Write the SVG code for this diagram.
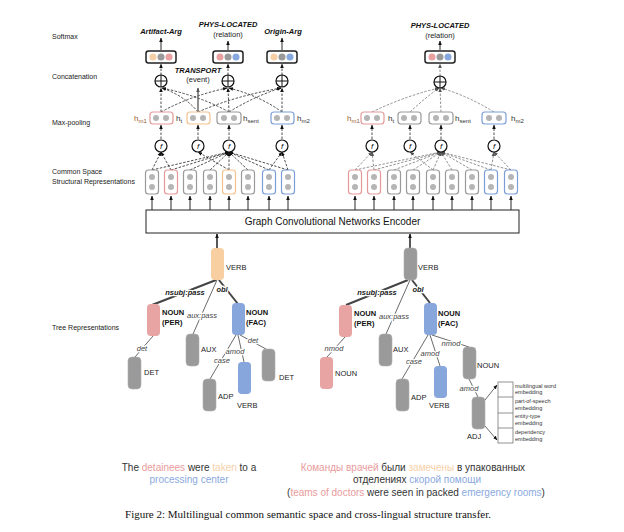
<svg xmlns="http://www.w3.org/2000/svg" width="624" height="532" viewBox="0 0 624 532">
<defs>
<marker id="a" viewBox="0 0 10 10" refX="9" refY="5" markerWidth="4.5" markerHeight="4.5" markerUnits="userSpaceOnUse" orient="auto"><path d="M0,1 L10,5 L0,9z" fill="#111"/></marker>
<marker id="ag" viewBox="0 0 10 10" refX="9" refY="5" markerWidth="4.5" markerHeight="4.5" markerUnits="userSpaceOnUse" orient="auto"><path d="M0,1 L10,5 L0,9z" fill="#555"/></marker>
</defs>
<style>
text{font-family:"Liberation Sans",Arial,sans-serif;}
text.serif{font-family:"Liberation Serif","Times New Roman",serif;}
.row{font-size:7px;fill:#222}
.t75{font-size:7.5px;fill:#222}
.bi{font-size:7.5px;font-weight:bold;font-style:italic;fill:#111}
.el{font-size:7.5px;font-style:italic;fill:#444;stroke:#fff;stroke-width:2.5px;paint-order:stroke}
.elb{font-size:7.5px;font-style:italic;font-weight:bold;fill:#222;stroke:#fff;stroke-width:2.5px;paint-order:stroke}
.nb{font-size:7.5px;font-weight:bold;fill:#111}
.emb{font-size:5.5px;fill:#333}
.dot{fill:#b5b5b5}
.sv{fill:#fff;stroke-width:1.2}
.g{stroke:#9a9a9a}.p{stroke:#e59a9a}.o{stroke:#f3c18e}.b{stroke:#7c9ed8}
.sm{fill:#fff;stroke:#222;stroke-width:1.5}
.fc{fill:#fff;stroke:#111;stroke-width:1.2}
.d{fill:none;stroke:#222;stroke-width:0.8;stroke-dasharray:2.5 1.5}
.dg{fill:none;stroke:#777;stroke-width:0.8;stroke-dasharray:2.5 1.5}
.up{fill:none;stroke:#111;stroke-width:0.9}
.thick{stroke:#444;stroke-width:2;fill:none}
.thin{stroke:#444;stroke-width:0.8;fill:none}
.ng{fill:#9a9a9a;stroke:#b0b0b0;stroke-width:0.6}
.np{fill:#e8a3a3}.no{fill:#f8cfa0}.nbl{fill:#86a6dc}
</style>
<rect width="624" height="532" fill="#fff"/>

<g id="row-labels">
<text class="row" x="52" y="39">Softmax</text>
<text class="row" x="52" y="79">Concatenation</text>
<text class="row" x="52" y="125">Max-pooling</text>
<text class="row" x="52" y="174">Common Space</text>
<text class="row" x="52" y="184">Structural Representations</text>
<text class="row" x="52" y="330">Tree Representations</text>
</g>

<g id="connectors">
<path class="up" d="M161,50 L161,38" marker-end="url(#a)"/>
<path class="up" d="M228,50 L228,41" marker-end="url(#a)"/>
<path class="up" d="M282,50 L282,38" marker-end="url(#a)"/>
<path class="up" d="M440,50 L440,41" marker-end="url(#a)"/>
<path class="d" d="M161,75 L161,64" marker-end="url(#a)"/>
<path class="d" d="M228,75 L228,64" marker-end="url(#a)"/>
<path class="d" d="M282,75 L282,64" marker-end="url(#a)"/>
<path class="dg" d="M440,76 L440,64" marker-end="url(#ag)"/>
<path class="d" d="M161,112 L161,88" marker-end="url(#a)"/>
<path class="d" d="M198,112 Q185,96 162,88" marker-end="url(#a)"/>
<path class="d" d="M229,112 Q200,96 162,88" marker-end="url(#a)"/>
<path class="d" d="M161,112 Q190,96 227,88" marker-end="url(#a)"/>
<path class="d" d="M229,112 L228,88" marker-end="url(#a)"/>
<path class="d" d="M282,112 Q260,96 229,88" marker-end="url(#a)"/>
<path class="d" d="M198,112 Q235,96 281,88" marker-end="url(#a)"/>
<path class="d" d="M229,112 Q255,96 281,88" marker-end="url(#a)"/>
<path class="d" d="M282,112 L282,88" marker-end="url(#a)"/>
<path d="M198,112 L198,88" stroke="#555" stroke-width="1.3" fill="none" marker-end="url(#ag)"/>
<path class="dg" d="M372,112 Q405,96 439,88" marker-end="url(#ag)"/>
<path class="dg" d="M410,112 Q425,98 439,88" marker-end="url(#ag)"/>
<path class="dg" d="M441,112 L440,88" marker-end="url(#ag)"/>
<path class="dg" d="M494,112 Q468,96 441,88" marker-end="url(#ag)"/>
<path class="d" d="M161,139 L161,125" marker-end="url(#a)"/>
<path class="d" d="M198,139 L198,125" marker-end="url(#a)"/>
<path class="d" d="M229,139 L229,125" marker-end="url(#a)"/>
<path class="d" d="M282,139 L282,125" marker-end="url(#a)"/>
<path class="d" d="M372,139 L372,125" marker-end="url(#a)"/>
<path class="d" d="M410,139 L410,125" marker-end="url(#a)"/>
<path class="d" d="M441,139 L441,125" marker-end="url(#a)"/>
<path class="d" d="M494,139 L494,125" marker-end="url(#a)"/>
<path class="d" d="M152,170 L161,152" marker-end="url(#a)"/>
<path class="d" d="M171,170 L161,152" marker-end="url(#a)"/>
<path class="d" d="M229,170 L198,152" marker-end="url(#a)"/>
<path class="d" d="M152,170 L229,152" marker-end="url(#a)"/>
<path class="d" d="M171,170 L229,152" marker-end="url(#a)"/>
<path class="d" d="M190,170 L229,152" marker-end="url(#a)"/>
<path class="d" d="M210,170 L229,152" marker-end="url(#a)"/>
<path class="d" d="M229,170 L229,152" marker-end="url(#a)"/>
<path class="d" d="M248,170 L229,152" marker-end="url(#a)"/>
<path class="d" d="M269,170 L229,152" marker-end="url(#a)"/>
<path class="d" d="M288,170 L229,152" marker-end="url(#a)"/>
<path class="d" d="M269,170 L282,152" marker-end="url(#a)"/>
<path class="d" d="M288,170 L282,152" marker-end="url(#a)"/>
<path class="dg" d="M355,170 L372,152" marker-end="url(#ag)"/>
<path class="dg" d="M374,170 L372,152" marker-end="url(#ag)"/>
<path class="dg" d="M433,170 L410,152" marker-end="url(#ag)"/>
<path class="dg" d="M355,170 L441,152" marker-end="url(#ag)"/>
<path class="dg" d="M374,170 L441,152" marker-end="url(#ag)"/>
<path class="dg" d="M394,170 L441,152" marker-end="url(#ag)"/>
<path class="dg" d="M413,170 L441,152" marker-end="url(#ag)"/>
<path class="dg" d="M433,170 L441,152" marker-end="url(#ag)"/>
<path class="dg" d="M452,170 L441,152" marker-end="url(#ag)"/>
<path class="dg" d="M472,170 L441,152" marker-end="url(#ag)"/>
<path class="dg" d="M491,170 L441,152" marker-end="url(#ag)"/>
<path class="dg" d="M511,170 L441,152" marker-end="url(#ag)"/>
<path class="dg" d="M491,170 L494,152" marker-end="url(#ag)"/>
<path class="dg" d="M511,170 L494,152" marker-end="url(#ag)"/>
<path class="up" d="M152,210 L152,196" marker-end="url(#a)"/>
<path class="up" d="M171,210 L171,196" marker-end="url(#a)"/>
<path class="up" d="M190,210 L190,196" marker-end="url(#a)"/>
<path class="up" d="M210,210 L210,196" marker-end="url(#a)"/>
<path class="up" d="M229,210 L229,196" marker-end="url(#a)"/>
<path class="up" d="M248,210 L248,196" marker-end="url(#a)"/>
<path class="up" d="M269,210 L269,196" marker-end="url(#a)"/>
<path class="up" d="M288,210 L288,196" marker-end="url(#a)"/>
<path class="up" d="M355,210 L355,196" marker-end="url(#a)"/>
<path class="up" d="M374,210 L374,196" marker-end="url(#a)"/>
<path class="up" d="M394,210 L394,196" marker-end="url(#a)"/>
<path class="up" d="M413,210 L413,196" marker-end="url(#a)"/>
<path class="up" d="M433,210 L433,196" marker-end="url(#a)"/>
<path class="up" d="M452,210 L452,196" marker-end="url(#a)"/>
<path class="up" d="M472,210 L472,196" marker-end="url(#a)"/>
<path class="up" d="M491,210 L491,196" marker-end="url(#a)"/>
<path class="up" d="M511,210 L511,196" marker-end="url(#a)"/>
<path d="M217,248 L217,234" stroke="#111" stroke-width="1.4" fill="none" marker-end="url(#a)"/>
<path d="M410,248 L410,234" stroke="#111" stroke-width="1.4" fill="none" marker-end="url(#a)"/>
<path class="thick" d="M216,280 L152,305"/>
<path class="thick" d="M219,280 L238,304"/>
<path class="thin" d="M217,280 L193,334"/>
<path class="thin" d="M153,336 L135,357"/>
<path class="thin" d="M236,335 L210,379"/>
<path class="thin" d="M238,335 L244,362"/>
<path class="thin" d="M240,335 L266,349"/>
<path class="thick" d="M408,280 L346,305"/>
<path class="thick" d="M412,280 L430,303"/>
<path class="thin" d="M410,280 L386,334"/>
<path class="thin" d="M345,337 L327,357"/>
<path class="thin" d="M428,335 L402,379"/>
<path class="thin" d="M430,335 L440,366"/>
<path class="thin" d="M432,335 L469,347"/>
<path class="thin" d="M469,379 L478,397"/>
<path class="thin" d="M485,400 L497,385" marker-end="url(#a)"/>
<path class="thin" d="M485,426 L497,440" marker-end="url(#a)"/>
</g>

<g id="softmax-artifact">
<text class="bi" x="161" y="34" text-anchor="middle">Artifact-Arg</text>
<rect class="sm" x="146" y="51" width="30" height="12" rx="2.5"/>
<circle cx="153" cy="57" r="3.5" fill="#f7cfa6"/><circle cx="161" cy="57" r="3.5" fill="#9a9a9a"/><circle cx="169" cy="57" r="3.5" fill="#e8a0a0"/>
</g>
<g id="softmax-phys-left">
<text class="bi" x="228" y="27" text-anchor="middle">PHYS-LOCATED</text>
<text class="t75" x="228" y="37" text-anchor="middle">(relation)</text>
<rect class="sm" x="213" y="51" width="30" height="12" rx="2.5"/>
<circle cx="220" cy="57" r="3.5" fill="#e8a0a0"/><circle cx="228" cy="57" r="3.5" fill="#9a9a9a"/><circle cx="236" cy="57" r="3.5" fill="#87a7df"/>
</g>
<g id="softmax-origin">
<text class="bi" x="283" y="34" text-anchor="middle">Origin-Arg</text>
<rect class="sm" x="267" y="51" width="30" height="12" rx="2.5"/>
<circle cx="274" cy="57" r="3.5" fill="#f7cfa6"/><circle cx="282" cy="57" r="3.5" fill="#9a9a9a"/><circle cx="290" cy="57" r="3.5" fill="#87a7df"/>
</g>
<g id="softmax-phys-right">
<text class="bi" x="440" y="28" text-anchor="middle">PHYS-LOCATED</text>
<text class="t75" x="440" y="38" text-anchor="middle">(relation)</text>
<rect class="sm" x="425" y="51" width="30" height="12" rx="2.5"/>
<circle cx="432" cy="57" r="3.5" fill="#e8a0a0"/><circle cx="440" cy="57" r="3.5" fill="#9a9a9a"/><circle cx="448" cy="57" r="3.5" fill="#87a7df"/>
</g>

<g id="plus-1"><circle class="fc" cx="161" cy="81" r="6"/><path d="M155,81 H167 M161,75 V87" stroke="#111" stroke-width="1"/></g>
<g id="plus-2"><circle class="fc" cx="228" cy="81" r="6"/><path d="M222,81 H234 M228,75 V87" stroke="#111" stroke-width="1"/></g>
<g id="plus-3"><circle class="fc" cx="282" cy="81" r="6"/><path d="M276,81 H288 M282,75 V87" stroke="#111" stroke-width="1"/></g>
<g id="plus-4"><circle class="fc" cx="440" cy="82" r="6"/><path d="M434,82 H446 M440,76 V88" stroke="#111" stroke-width="1"/></g>
<g id="transport-label">
<text class="bi" x="198" y="73" text-anchor="middle">TRANSPORT</text>
<text class="t75" x="198" y="82" text-anchor="middle">(event)</text>
</g>

<g id="hm1-left"><rect class="sv p" x="150" y="112" width="23" height="12" rx="3"/><circle class="dot" cx="156" cy="118" r="3"/><circle class="dot" cx="166" cy="118" r="3"/>
<text x="134" y="121" font-size="8" fill="#9a5a2c">h<tspan font-size="6" dy="1.5">m1</tspan></text></g>
<g id="ht-left"><rect class="sv o" x="187" y="112" width="23" height="12" rx="3"/><circle class="dot" cx="193" cy="118" r="3"/><circle class="dot" cx="203" cy="118" r="3"/>
<text x="176" y="121" font-size="8" fill="#333">h<tspan font-size="6" dy="1.5">t</tspan></text></g>
<g id="hsent-left"><rect class="sv g" x="217" y="112" width="24" height="12" rx="3"/><circle class="dot" cx="224" cy="118" r="3"/><circle class="dot" cx="234" cy="118" r="3"/>
<text x="243" y="121" font-size="8" fill="#333">h<tspan font-size="6" dy="1.5">sent</tspan></text></g>
<g id="hm2-left"><rect class="sv b" x="271" y="112" width="23" height="12" rx="3"/><circle class="dot" cx="277" cy="118" r="3"/><circle class="dot" cx="287" cy="118" r="3"/>
<text x="297" y="121" font-size="8" fill="#333">h<tspan font-size="6" dy="1.5">m2</tspan></text></g>

<g id="hm1-right"><rect class="sv p" x="361" y="112" width="23" height="12" rx="3"/><circle class="dot" cx="367" cy="118" r="3"/><circle class="dot" cx="377" cy="118" r="3"/>
<text x="347" y="121" font-size="8" fill="#9a5a2c">h<tspan font-size="6" dy="1.5">m1</tspan></text></g>
<g id="ht-right"><rect class="sv g" x="398" y="112" width="23" height="12" rx="3"/><circle class="dot" cx="404" cy="118" r="3"/><circle class="dot" cx="414" cy="118" r="3"/>
<text x="388" y="121" font-size="8" fill="#333">h<tspan font-size="6" dy="1.5">t</tspan></text></g>
<g id="hsent-right"><rect class="sv g" x="429" y="112" width="24" height="12" rx="3"/><circle class="dot" cx="436" cy="118" r="3"/><circle class="dot" cx="446" cy="118" r="3"/>
<text x="455" y="121" font-size="8" fill="#333">h<tspan font-size="6" dy="1.5">sent</tspan></text></g>
<g id="hm2-right"><rect class="sv b" x="482" y="112" width="24" height="12" rx="3"/><circle class="dot" cx="489" cy="118" r="3"/><circle class="dot" cx="499" cy="118" r="3"/>
<text x="511" y="121" font-size="8" fill="#333">h<tspan font-size="6" dy="1.5">m2</tspan></text></g>

<g id="f-1"><circle class="fc" cx="161" cy="146" r="6"/><text x="161" y="149" font-size="8" font-style="italic" text-anchor="middle" fill="#111">f</text></g>
<g id="f-2"><circle class="fc" cx="198" cy="146" r="6"/><text x="198" y="149" font-size="8" font-style="italic" text-anchor="middle" fill="#111">f</text></g>
<g id="f-3"><circle class="fc" cx="229" cy="146" r="6"/><text x="229" y="149" font-size="8" font-style="italic" text-anchor="middle" fill="#111">f</text></g>
<g id="f-4"><circle class="fc" cx="282" cy="146" r="6"/><text x="282" y="149" font-size="8" font-style="italic" text-anchor="middle" fill="#111">f</text></g>
<g id="f-5"><circle class="fc" cx="372" cy="146" r="6"/><text x="372" y="149" font-size="8" font-style="italic" text-anchor="middle" fill="#111">f</text></g>
<g id="f-6"><circle class="fc" cx="410" cy="146" r="6"/><text x="410" y="149" font-size="8" font-style="italic" text-anchor="middle" fill="#111">f</text></g>
<g id="f-7"><circle class="fc" cx="441" cy="146" r="6"/><text x="441" y="149" font-size="8" font-style="italic" text-anchor="middle" fill="#111">f</text></g>
<g id="f-8"><circle class="fc" cx="494" cy="146" r="6"/><text x="494" y="149" font-size="8" font-style="italic" text-anchor="middle" fill="#111">f</text></g>

<g id="sl1"><rect class="sv g" x="145.5" y="170" width="13" height="24" rx="3"/><circle class="dot" cx="152" cy="177" r="3"/><circle class="dot" cx="152" cy="187" r="3"/></g>
<g id="sl2"><rect class="sv p" x="164.5" y="170" width="13" height="24" rx="3"/><circle class="dot" cx="171" cy="177" r="3"/><circle class="dot" cx="171" cy="187" r="3"/></g>
<g id="sl3"><rect class="sv g" x="183.5" y="170" width="13" height="24" rx="3"/><circle class="dot" cx="190" cy="177" r="3"/><circle class="dot" cx="190" cy="187" r="3"/></g>
<g id="sl4"><rect class="sv g" x="203.5" y="170" width="13" height="24" rx="3"/><circle class="dot" cx="210" cy="177" r="3"/><circle class="dot" cx="210" cy="187" r="3"/></g>
<g id="sl5"><rect class="sv o" x="222.5" y="170" width="13" height="24" rx="3"/><circle class="dot" cx="229" cy="177" r="3"/><circle class="dot" cx="229" cy="187" r="3"/></g>
<g id="sl6"><rect class="sv g" x="241.5" y="170" width="13" height="24" rx="3"/><circle class="dot" cx="248" cy="177" r="3"/><circle class="dot" cx="248" cy="187" r="3"/></g>
<g id="sl7"><rect class="sv b" x="262.5" y="170" width="13" height="24" rx="3"/><circle class="dot" cx="269" cy="177" r="3"/><circle class="dot" cx="269" cy="187" r="3"/></g>
<g id="sl8"><rect class="sv b" x="281.5" y="170" width="13" height="24" rx="3"/><circle class="dot" cx="288" cy="177" r="3"/><circle class="dot" cx="288" cy="187" r="3"/></g>
<g id="sr1"><rect class="sv p" x="348.5" y="170" width="13" height="24" rx="3"/><circle class="dot" cx="355" cy="177" r="3"/><circle class="dot" cx="355" cy="187" r="3"/></g>
<g id="sr2"><rect class="sv p" x="367.5" y="170" width="13" height="24" rx="3"/><circle class="dot" cx="374" cy="177" r="3"/><circle class="dot" cx="374" cy="187" r="3"/></g>
<g id="sr3"><rect class="sv g" x="387.5" y="170" width="13" height="24" rx="3"/><circle class="dot" cx="394" cy="177" r="3"/><circle class="dot" cx="394" cy="187" r="3"/></g>
<g id="sr4"><rect class="sv g" x="406.5" y="170" width="13" height="24" rx="3"/><circle class="dot" cx="413" cy="177" r="3"/><circle class="dot" cx="413" cy="187" r="3"/></g>
<g id="sr5"><rect class="sv g" x="426.5" y="170" width="13" height="24" rx="3"/><circle class="dot" cx="433" cy="177" r="3"/><circle class="dot" cx="433" cy="187" r="3"/></g>
<g id="sr6"><rect class="sv g" x="445.5" y="170" width="13" height="24" rx="3"/><circle class="dot" cx="452" cy="177" r="3"/><circle class="dot" cx="452" cy="187" r="3"/></g>
<g id="sr7"><rect class="sv g" x="465.5" y="170" width="13" height="24" rx="3"/><circle class="dot" cx="472" cy="177" r="3"/><circle class="dot" cx="472" cy="187" r="3"/></g>
<g id="sr8"><rect class="sv b" x="484.5" y="170" width="13" height="24" rx="3"/><circle class="dot" cx="491" cy="177" r="3"/><circle class="dot" cx="491" cy="187" r="3"/></g>
<g id="sr9"><rect class="sv b" x="504.5" y="170" width="13" height="24" rx="3"/><circle class="dot" cx="511" cy="177" r="3"/><circle class="dot" cx="511" cy="187" r="3"/></g>

<g id="encoder">
<rect x="146" y="210" width="373" height="23" fill="#fff" stroke="#222" stroke-width="1"/>
<text x="332.5" y="225" font-size="10" text-anchor="middle" fill="#111">Graph Convolutional Networks Encoder</text>
</g>

<g id="lt-verb"><rect class="no" x="211" y="248" width="13" height="32" rx="4"/><text class="t75" x="226" y="270">VERB</text></g>
<g id="lt-noun-per"><rect class="np" x="147" y="304" width="13" height="32" rx="4"/><text class="nb" x="162" y="315">NOUN</text><text class="nb" x="162" y="325">(PER)</text></g>
<g id="lt-noun-fac"><rect class="nbl" x="232" y="303" width="13" height="32" rx="4"/><text class="nb" x="246" y="315">NOUN</text><text class="nb" x="246" y="325">(FAC)</text></g>
<g id="lt-aux"><rect class="ng" x="186" y="334" width="13" height="32" rx="4"/><text class="t75" x="201" y="352">AUX</text></g>
<g id="lt-det1"><rect class="ng" x="128" y="357" width="13" height="32" rx="4"/><text class="t75" x="144" y="375">DET</text></g>
<g id="lt-adp"><rect class="ng" x="203" y="379" width="13" height="32" rx="4"/><text class="t75" x="218" y="399">ADP</text></g>
<g id="lt-verb2"><rect class="nbl" x="238" y="362" width="13" height="32" rx="4"/><text class="t75" x="237" y="408">VERB</text></g>
<g id="lt-det2"><rect class="ng" x="262" y="349" width="13" height="32" rx="4"/><text class="t75" x="279" y="380">DET</text></g>
<g id="lt-edge-labels">
<text class="elb" x="185" y="295" text-anchor="middle">nsubj:pass</text>
<text class="elb" x="222" y="292" text-anchor="middle">obl</text>
<text class="el" x="187" y="318">aux:pass</text>
<text class="el" x="142" y="351" text-anchor="middle">det</text>
<text class="el" x="222" y="363" text-anchor="middle">case</text>
<text class="el" x="235" y="354" text-anchor="middle">amod</text>
<text class="el" x="253" y="343" text-anchor="middle">det</text>
</g>

<g id="rt-verb"><rect class="ng" x="404" y="248" width="13" height="32" rx="4"/><text class="t75" x="418" y="270">VERB</text></g>
<g id="rt-noun-per"><rect class="np" x="339" y="305" width="13" height="32" rx="4"/><text class="nb" x="354" y="316">NOUN</text><text class="nb" x="354" y="326">(PER)</text></g>
<g id="rt-noun-fac"><rect class="nbl" x="424" y="303" width="13" height="32" rx="4"/><text class="nb" x="438" y="316">NOUN</text><text class="nb" x="438" y="326">(FAC)</text></g>
<g id="rt-aux"><rect class="ng" x="379" y="334" width="13" height="32" rx="4"/><text class="t75" x="393" y="352">AUX</text></g>
<g id="rt-noun2"><rect class="np" x="320" y="357" width="13" height="32" rx="4"/><text class="t75" x="335" y="376">NOUN</text></g>
<g id="rt-adp"><rect class="ng" x="396" y="379" width="13" height="32" rx="4"/><text class="t75" x="411" y="400">ADP</text></g>
<g id="rt-verb2"><rect class="nbl" x="434" y="366" width="13" height="32" rx="4"/><text class="t75" x="429" y="408">VERB</text></g>
<g id="rt-noun3"><rect class="ng" x="463" y="347" width="13" height="32" rx="4"/><text class="t75" x="477" y="368">NOUN</text></g>
<g id="rt-adj"><rect class="ng" x="472" y="397" width="13" height="32" rx="4"/><text class="t75" x="467" y="439">ADJ</text></g>
<g id="rt-edge-labels">
<text class="elb" x="377" y="295" text-anchor="middle">nsubj:pass</text>
<text class="elb" x="418" y="292" text-anchor="middle">obl</text>
<text class="el" x="379" y="319">aux:pass</text>
<text class="el" x="334" y="351" text-anchor="middle">nmod</text>
<text class="el" x="414" y="364" text-anchor="middle">case</text>
<text class="el" x="430" y="356" text-anchor="middle">amod</text>
<text class="el" x="451" y="346" text-anchor="middle">nmod</text>
<text class="el" x="469" y="391" text-anchor="middle">amod</text>
</g>
<g id="embedding">
<rect x="498" y="382" width="15" height="61" fill="#fff" stroke="#777" stroke-width="0.8"/>
<path d="M498,397 H513 M498,413 H513 M498,428 H513" stroke="#777" stroke-width="0.8"/>
<text class="emb" x="515" y="388">multilingual word</text>
<text class="emb" x="515" y="394">embedding</text>
<text class="emb" x="515" y="403">part-of-speech</text>
<text class="emb" x="515" y="410">embedding</text>
<text class="emb" x="515" y="418">entity-type</text>
<text class="emb" x="515" y="425">embedding</text>
<text class="emb" x="515" y="434">dependency</text>
<text class="emb" x="515" y="441">embedding</text>
</g>

<g id="sentence-en">
<text x="189" y="471" text-anchor="middle" font-size="10"><tspan fill="#333">The </tspan><tspan fill="#e89b9b">detainees</tspan><tspan fill="#333"> were </tspan><tspan fill="#f7cfa8">taken</tspan><tspan fill="#333"> to a</tspan></text>
<text x="189" y="483" text-anchor="middle" font-size="10" fill="#8aa9de">processing center</text>
</g>
<g id="sentence-ru">
<text x="413" y="471" text-anchor="middle" font-size="10"><tspan fill="#e89b9b">Команды врачей</tspan><tspan fill="#333"> были </tspan><tspan fill="#f7cfa8">замечены</tspan><tspan fill="#333"> в упакованных</tspan></text>
<text x="417" y="483" text-anchor="middle" font-size="10"><tspan fill="#333">отделениях </tspan><tspan fill="#8aa9de">скорой помощи</tspan></text>
<text x="416" y="496" text-anchor="middle" font-size="10"><tspan fill="#333">(</tspan><tspan fill="#e89b9b">teams of doctors</tspan><tspan fill="#333"> were seen in packed </tspan><tspan fill="#8aa9de">emergency rooms</tspan><tspan fill="#333">)</tspan></text>
</g>
<g id="caption">
<text class="serif" x="308" y="518" text-anchor="middle" font-size="11" fill="#111">Figure 2: Multilingual common semantic space and cross-lingual structure transfer.</text>
</g>
</svg>
